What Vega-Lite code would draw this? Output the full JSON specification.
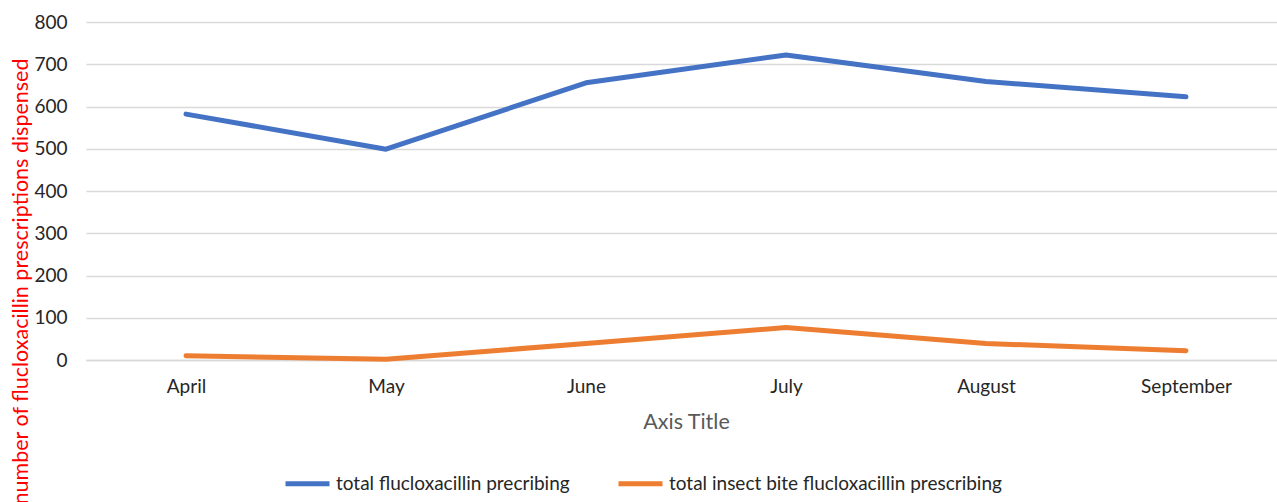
{
  "$schema": "https://vega.github.io/schema/vega-lite/v6.json",
  "autosize": {"type": "none"},
  "padding": {"left": 86, "top": 22, "right": 0, "bottom": 142},
  "width": 1200,
  "height": 338,
  "config": {
    "view": {"stroke": null},
    "font": "Lato",
    "axis": {"labelFont": "Lato", "titleFont": "Lato"},
    "legend": {"labelFont": "Lato"}
  },
  "data": {
    "values": [
      {"month": "April", "series": "total flucloxacillin precribing", "value": 582},
      {"month": "May", "series": "total flucloxacillin precribing", "value": 499},
      {"month": "June", "series": "total flucloxacillin precribing", "value": 656},
      {"month": "July", "series": "total flucloxacillin precribing", "value": 722},
      {"month": "August", "series": "total flucloxacillin precribing", "value": 659},
      {"month": "September", "series": "total flucloxacillin precribing", "value": 623},
      {"month": "April", "series": "total insect bite flucloxacillin prescribing", "value": 10},
      {"month": "May", "series": "total insect bite flucloxacillin prescribing", "value": 2},
      {"month": "June", "series": "total insect bite flucloxacillin prescribing", "value": 39},
      {"month": "July", "series": "total insect bite flucloxacillin prescribing", "value": 77},
      {"month": "August", "series": "total insect bite flucloxacillin prescribing", "value": 39},
      {"month": "September", "series": "total insect bite flucloxacillin prescribing", "value": 22}
    ]
  },
  "mark": {"type": "line", "strokeWidth": 5, "strokeCap": "round", "strokeJoin": "round"},
  "encoding": {
    "x": {
      "field": "month",
      "type": "ordinal",
      "sort": ["April", "May", "June", "July", "August", "September"],
      "scale": {"type": "point", "padding": 0.5},
      "axis": {
        "title": "Axis Title",
        "titleFontSize": 21.5,
        "titleFontWeight": "normal",
        "titleColor": "#595959",
        "titlePadding": 15,
        "labelAngle": 0,
        "labelFontSize": 19,
        "labelColor": "#262626",
        "labelPadding": 17,
        "ticks": false,
        "domainColor": "#d9d9d9",
        "domainWidth": 1.5,
        "grid": false
      }
    },
    "y": {
      "field": "value",
      "type": "quantitative",
      "scale": {"domain": [0, 800], "nice": false},
      "axis": {
        "title": "number of  flucloxacillin prescriptions dispensed",
        "titleColor": "#ff0000",
        "titleFontSize": 21.5,
        "titleFontWeight": "normal",
        "titleAngle": -90,
        "titleAlign": "right",
        "titleBaseline": "alphabetic",
        "titleX": -59,
        "titleY": 36,
        "titleLimit": 0,
        "values": [0, 100, 200, 300, 400, 500, 600, 700, 800],
        "labelFontSize": 19,
        "labelColor": "#262626",
        "labelPadding": 19,
        "ticks": false,
        "domain": false,
        "grid": true,
        "gridColor": "#d9d9d9",
        "gridWidth": 1.5
      }
    },
    "color": {
      "field": "series",
      "type": "nominal",
      "scale": {"range": ["#4472C4", "#ED7D31"]},
      "legend": {
        "title": null,
        "orient": "none",
        "direction": "horizontal",
        "legendX": 197,
        "legendY": 437,
        "symbolType": "stroke",
        "symbolSize": 1936,
        "symbolStrokeWidth": 5,
        "labelFontSize": 19,
        "labelColor": "#262626",
        "labelOffset": 4,
        "labelLimit": 0,
        "columnPadding": 38
      }
    }
  }
}
